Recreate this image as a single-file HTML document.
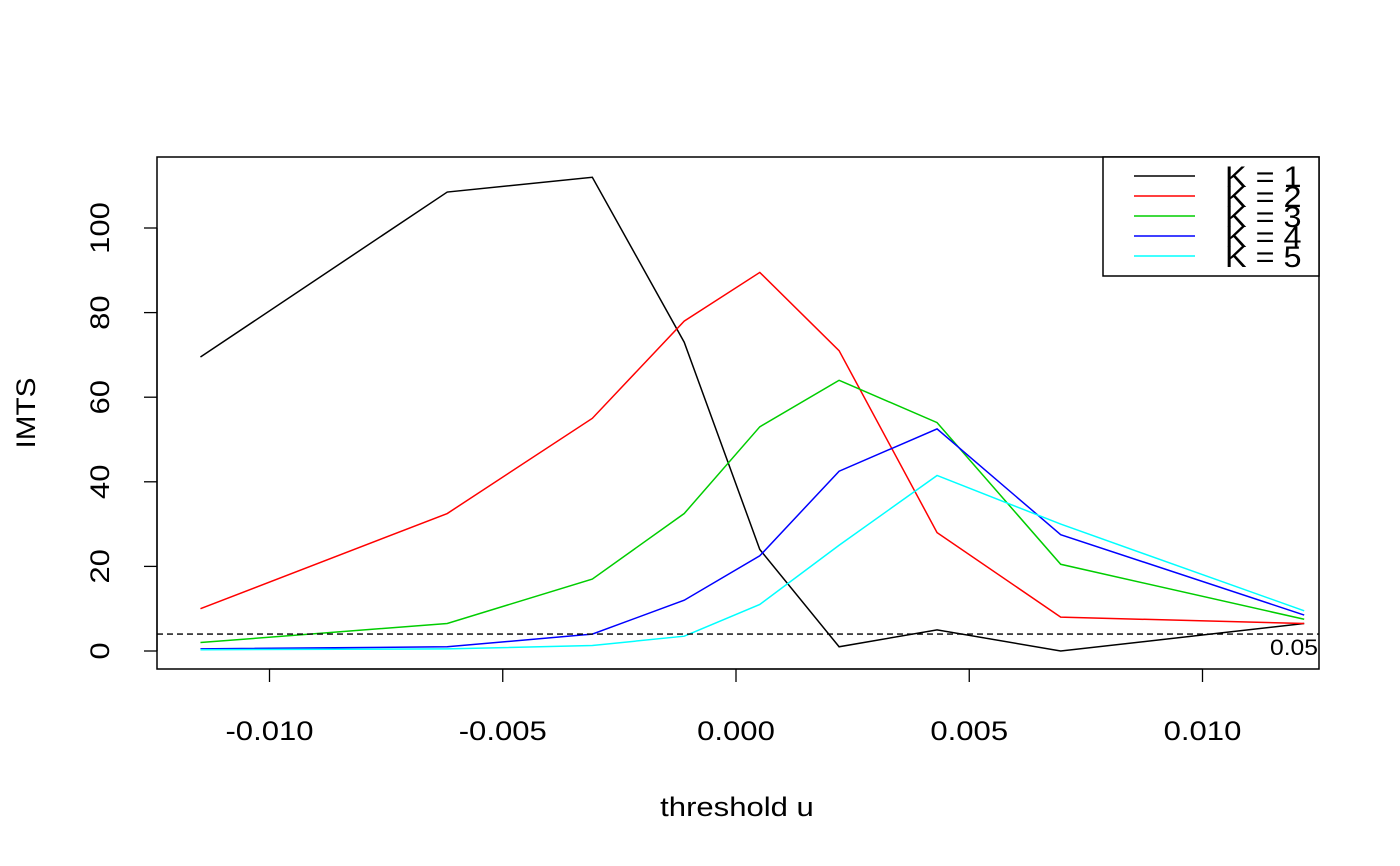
<!DOCTYPE html>
<html><head><meta charset="utf-8"><style>
body{margin:0;background:#fff}
svg{display:block;font-family:"Liberation Sans",Arial,sans-serif}
</style></head><body>
<svg id="chart" width="1400" height="866" xmlns="http://www.w3.org/2000/svg">
<rect width="1400" height="866" fill="#fff"/>
<g id="plot"></g>
</svg>
<script>
const xs = [-0.01148, -0.00619, -0.00308, -0.00111, 0.00051, 0.00221, 0.00431, 0.00696, 0.01218];
const seriesK1 = [69.5, 108.5, 112, 73, 24, 1, 5, 0, 6.5];
const seriesK2 = [10, 32.5, 55, 78, 89.5, 71, 28, 8, 6.5];
const seriesK3 = [2, 6.5, 17, 32.5, 53, 64, 54, 20.5, 7.5];
const seriesK4 = [0.5, 1, 4, 12, 22.5, 42.5, 52.5, 27.5, 8.5];
const seriesK5 = [0.3, 0.5, 1.3, 3.5, 11, 25, 41.5, 30, 9.5];
const legendLabels = ["K = 1","K = 2","K = 3","K = 4","K = 5"];
const colors = ["#000","#ff0000","#00cd00","#0000ff","#00ffff"];
const xTicks = [-0.010, -0.005, 0.000, 0.005, 0.010];
const xTickLabels = ["-0.010","-0.005","0.000","0.005","0.010"];
const yTicks = [0, 20, 40, 60, 80, 100];
const threshold = 4.0;

const NS="http://www.w3.org/2000/svg";
const g=document.getElementById('plot');
const X=v=>736+v*46650;
const Y=v=>651-v*4.23;
function mk(tag,attrs,parent){const e=document.createElementNS(NS,tag);for(const k in attrs)e.setAttribute(k,attrs[k]);(parent||g).appendChild(e);return e;}
function widen(el,f){const w=el.getComputedTextLength();el.setAttribute('textLength',w*f);el.setAttribute('lengthAdjust','spacingAndGlyphs');}

let e=mk('rect',{x:157,y:157,width:1162,height:512,fill:'none',stroke:'#000','stroke-width':1.5});



xTicks.forEach((t,i)=>{
  const l=mk('line',{x1:X(t),x2:X(t),y1:669,y2:682,stroke:'#000','stroke-width':1.3});
  
  
  const tx=mk('text',{x:X(t),y:740,'font-size':27,'text-anchor':'middle'});
  tx.textContent=xTickLabels[i];
  
  
  widen(tx,1.15);
});
mk('line',{x1:X(xTicks[0]),x2:X(xTicks[xTicks.length-1]),y1:669,y2:669,stroke:'#000','stroke-width':1.3});
yTicks.forEach(t=>{
  const l=mk('line',{x1:144,x2:157,y1:Y(t),y2:Y(t),stroke:'#000','stroke-width':1.3});
  
  
  const tx=mk('text',{x:0,y:0,'font-size':27,'text-anchor':'middle',transform:`translate(109,${Y(t)}) rotate(-90)`});
  tx.textContent=String(t);
  
  
  widen(tx,1.15);
});
mk('line',{x1:157,x2:157,y1:Y(0),y2:Y(100),stroke:'#000','stroke-width':1.3});

let t=mk('text',{x:737,y:816,'font-size':27,'text-anchor':'middle'});t.textContent='threshold u';


widen(t,1.15);
t=mk('text',{x:0,y:0,'font-size':27,'text-anchor':'middle',transform:'translate(35,413) rotate(-90)'});t.textContent='IMTS';


widen(t,1.1);

[seriesK1,seriesK2,seriesK3,seriesK4,seriesK5].forEach((s,i)=>{
  const p=mk('polyline',{points:s.map((v,j)=>X(xs[j])+','+Y(v)).join(' '),fill:'none',stroke:colors[i],'stroke-width':1.5});
  
  
});

e=mk('line',{x1:157,x2:1319,y1:Y(threshold),y2:Y(threshold),stroke:'#000','stroke-width':1.3,'stroke-dasharray':'6,4'});


t=mk('text',{x:1270,y:655,'font-size':22});t.textContent='0.05';


widen(t,1.12);

const lg=mk('g',{});


mk('rect',{x:1103,y:157,width:216,height:119,fill:'#fff',stroke:'#000','stroke-width':1.5},lg);
legendLabels.forEach((lab,i)=>{
  const y=176+i*20;
  const l=mk('line',{x1:1134,x2:1195,y1:y,y2:y,stroke:colors[i],'stroke-width':1.5},lg);
  
  
  const tx=mk('text',{x:1225,y:y+11,'font-size':30},lg);
  tx.textContent=lab;
  
  
  widen(tx,1.08);
});
</script>
</body></html>
